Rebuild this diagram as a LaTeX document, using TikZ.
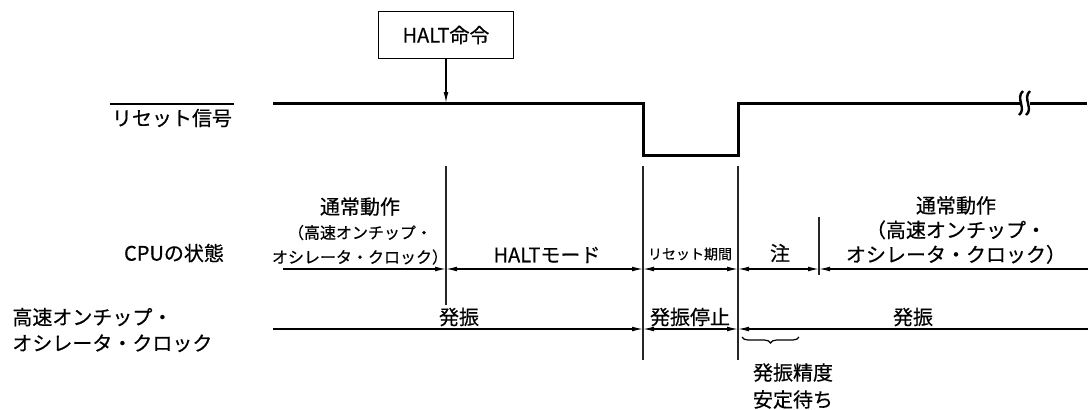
\documentclass[tikz,border=0pt]{standalone}
\usepackage{fontspec}
\setmainfont{Noto Sans CJK JP}[UprightFeatures={FakeBold=0.5}]
\usetikzlibrary{arrows.meta,decorations.pathreplacing}
\tikzset{
  tip/.tip={Latex[length=5.5pt,width=2.4pt]},
  sig/.style={line width=1.5pt},
  tickline/.style={line width=0.9pt,black!85},
  span/.style={line width=0.6pt,tip-tip},
  spanr/.style={line width=0.6pt,-tip},
  spanl/.style={line width=0.6pt,tip-},
  small/.style={font=\fontsize{7}{8}\selectfont}
}
\newcommand{\narrowtxt}{\fontsize{8}{12.25}\selectfont}
\begin{document}
\begin{tikzpicture}[x=0.5pt,y=-0.5pt,
  every node/.style={font=\fontsize{10}{12.25}\selectfont,inner sep=1pt}]
\useasboundingbox (0,0) rectangle (1088,409);
% top: HALT instruction and reset signal
\node[draw,line width=0.6pt,minimum width=67.5pt,minimum height=23.5pt] (halt) at (446,35) {HALT命令};
\coordinate (hit) at (446,103);
\draw[spanr] (halt) -- (hit);
\node (rst) at (172,118) {リセット信号};
\draw[line width=0.6pt] ([yshift=1.2pt]rst.north west) -- ([yshift=1.2pt]rst.north east);
\coordinate (s0) at (273,103);
\coordinate (s1) at (643,103);
\coordinate (s2) at (643,155);
\coordinate (s3) at (738,155);
\coordinate (s4) at (738,103);
\coordinate (s5) at (1087,103);
\draw[sig] (s0) -- (s1) -- (s2) -- (s3) -- (s4) -- (s5);
% break mark
\fill[white] (1020,95) rectangle (1030,111);
\foreach \x in {1021,1028}
  \draw[line width=1.2pt] (\x-2,115) .. controls (\x+6,109) and (\x-6,98) .. (\x+2,91);
% boundaries
\foreach \x/\a/\b in {446/166/305, 643/166/360, 738/166/360, 819/217/275}
  \draw[tickline] (\x,\a) -- (\x,\b);
% middle: CPU state
\node (cpu) at (174,253) {CPUの状態};
\node[align=center] (run1) at (360,231) {通常動作\\{\narrowtxt（高速オンチップ・}\\{\narrowtxt オシレータ・クロック）}};
\node (haltm) at (547,255) {HALTモード};
\node[small] (rstp) at (690,254) {リセット期間};
\node (note) at (780,253) {注};
\node[align=center] (run2) at (956,230) {通常動作\\（高速オンチップ・\\オシレータ・クロック）};
\draw[spanr] (283,269) -- (446,269);
\foreach \a/\b in {446/643, 643/738, 738/819}
  \draw[span] (\a,269) -- (\b,269);
\draw[spanl] (819,269) -- (1088,269);
% bottom: on-chip oscillator
\node[align=left,anchor=west,font=\fontsize{10}{13}\selectfont] (hoco) at (10,330) {高速オンチップ・\\オシレータ・クロック};
\node (osc1) at (459,317) {発振};
\node (stop) at (690,317) {発振停止};
\node (osc2) at (913,317) {発振};
\draw[spanr] (273,329) -- (643,329);
\draw[span] (643,329) -- (738,329);
\draw[spanl] (738,329) -- (1088,329);
\draw[line width=0.6pt,decorate,decoration={brace,mirror,amplitude=3pt}] (742,337) -- (799,337);
\node[align=center,font=\fontsize{10}{13.5}\selectfont] (wait) at (793,386) {発振精度\\安定待ち};
\end{tikzpicture}
\end{document}
